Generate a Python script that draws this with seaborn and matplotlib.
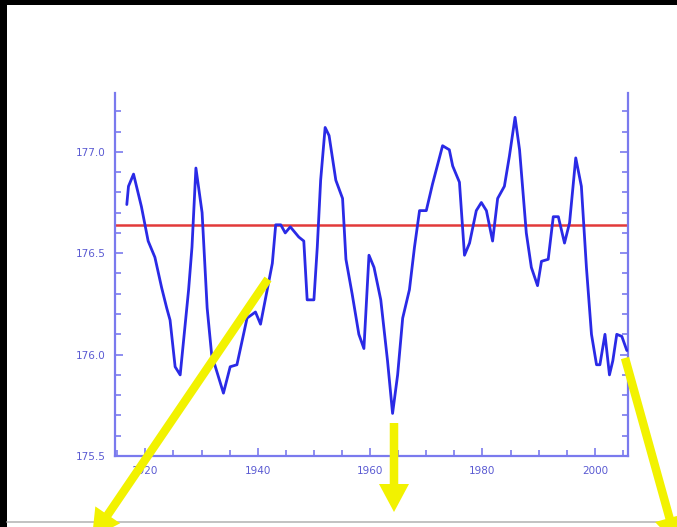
import numpy as np
import pandas as pd
import matplotlib
matplotlib.use("Agg")
import matplotlib.pyplot as plt
from matplotlib.patches import Rectangle, FancyArrow
from matplotlib.ticker import MultipleLocator
import seaborn as sns

# Smoothed annual series (year, value)
years = [1916.7, 1917.0, 1917.9, 1919.3, 1920.5, 1921.7, 1922.9, 1923.8, 1924.4, 1925.3,
         1926.2, 1927.7, 1928.3, 1929.0, 1930.1, 1931.0, 1931.8, 1933.9, 1935.1, 1936.3,
         1938.1, 1939.6, 1940.5, 1942.6, 1943.2, 1944.1, 1944.9, 1945.8, 1947.3, 1948.2,
         1948.8, 1950.0, 1950.6, 1951.2, 1952.0, 1952.7, 1953.9, 1955.1, 1955.7, 1956.8,
         1958.0, 1958.9, 1959.8, 1960.7, 1961.9, 1963.1, 1964.0, 1964.9, 1965.8, 1967.0,
         1967.9, 1968.8, 1970.0, 1971.1, 1972.9, 1974.1, 1974.7, 1975.9, 1976.8, 1977.7,
         1978.9, 1979.8, 1980.7, 1981.8, 1982.7, 1983.9, 1984.8, 1985.8, 1986.6, 1987.8,
         1988.7, 1989.8, 1990.5, 1991.7, 1992.6, 1993.5, 1994.6, 1995.5, 1996.6, 1997.6,
         1998.5, 1999.4, 2000.3, 2000.9, 2001.8, 2002.6, 2003.2, 2003.9, 2004.8, 2005.7]
values = [176.74, 176.83, 176.89, 176.73, 176.56, 176.48, 176.33, 176.23, 176.17, 175.94,
          175.90, 176.32, 176.53, 176.92, 176.70, 176.23, 176.00, 175.81, 175.94, 175.95,
          176.18, 176.21, 176.15, 176.45, 176.64, 176.64, 176.60, 176.63, 176.58, 176.56,
          176.27, 176.27, 176.53, 176.86, 177.12, 177.08, 176.86, 176.77, 176.47, 176.30,
          176.10, 176.03, 176.49, 176.43, 176.27, 175.97, 175.71, 175.90, 176.18, 176.32,
          176.53, 176.71, 176.71, 176.84, 177.03, 177.01, 176.93, 176.85, 176.49, 176.55,
          176.71, 176.75, 176.71, 176.56, 176.77, 176.83, 176.98, 177.17, 177.01, 176.60,
          176.43, 176.34, 176.46, 176.47, 176.68, 176.68, 176.55, 176.65, 176.97, 176.83,
          176.43, 176.10, 175.95, 175.95, 176.10, 175.90, 175.97, 176.10, 176.09, 176.02]
mean_level = 176.64

x_major_ticks = [1920, 1940, 1960, 1980, 2000]
y_major_ticks = [175.5, 176.0, 176.5, 177.0]

df = pd.DataFrame({"year": years, "value": values})

sns.set_theme(style="white")
plt.rcParams["font.family"] = ["DejaVu Sans"]

W, H = 677, 527
fig = plt.figure(figsize=(W / 100, H / 100), dpi=100)
fig.patch.set_facecolor("black")

# white page inside a dark frame
bg = fig.add_axes([0, 0, 1, 1], zorder=0)
bg.set_xlim(0, W)
bg.set_ylim(H, 0)
bg.axis("off")
bg.add_patch(Rectangle((7, 5), W - 7, H - 5, facecolor="white", edgecolor="none"))
bg.plot([7, W], [522, 522], color="#b8b8b8", lw=1.2)

# main plot area
left, right, top, bottom = 115, 628, 93, 456
ax = fig.add_axes([left / W, 1 - bottom / H, (right - left) / W, (bottom - top) / H], zorder=1)
ax.set_facecolor("none")

spine_col = "#7a7aee"
label_col = "#5a5ad2"

ax.axhline(mean_level, color="#e23a3a", lw=1.8, zorder=2)
sns.lineplot(data=df, x="year", y="value", ax=ax, color="#2a2ae6", lw=2.0,
             sort=False, estimator=None, zorder=3)

ax.set_xlim(1914.6, 2005.9)
ax.set_ylim(175.5, 177.29)
ax.set_xlabel("")
ax.set_ylabel("")

ax.xaxis.set_major_locator(plt.FixedLocator(x_major_ticks))
ax.xaxis.set_minor_locator(MultipleLocator(5))
ax.yaxis.set_major_locator(plt.FixedLocator(y_major_ticks))
ax.yaxis.set_minor_locator(MultipleLocator(0.1))
ax.set_xticklabels([str(t) for t in x_major_ticks])
ax.set_yticklabels([f"{t:.1f}" for t in y_major_ticks])

for side in ["left", "bottom", "right"]:
    ax.spines[side].set_visible(True)
    ax.spines[side].set_color(spine_col)
    ax.spines[side].set_linewidth(1.6)
ax.spines["top"].set_visible(False)

ax.tick_params(axis="both", which="both", direction="in", color=spine_col,
               labelcolor=label_col, labelsize=7.5, width=1.2)
ax.tick_params(axis="both", which="major", length=6, pad=7)
ax.tick_params(axis="both", which="minor", length=4)
ax.tick_params(axis="y", which="both", left=True, right=True, labelright=False)
ax.tick_params(axis="x", which="both", bottom=True, top=False)

# yellow pointer arrows on top of everything
ov = fig.add_axes([0, 0, 1, 1], zorder=5)
ov.set_xlim(0, W)
ov.set_ylim(H, 0)
ov.axis("off")
ov.patch.set_alpha(0)
yellow = "#f2f200"
arrows = [((268, 279), (92, 538)), ((394, 423), (394, 512)), ((625, 358), (677, 545))]
for (x0, y0), (x1, y1) in arrows:
    ov.add_patch(FancyArrow(x0, y0, x1 - x0, y1 - y0, width=8.5, head_width=30,
                            head_length=28, length_includes_head=True,
                            facecolor=yellow, edgecolor="none"))

fig.savefig("out.png", dpi=100, facecolor=fig.get_facecolor())
